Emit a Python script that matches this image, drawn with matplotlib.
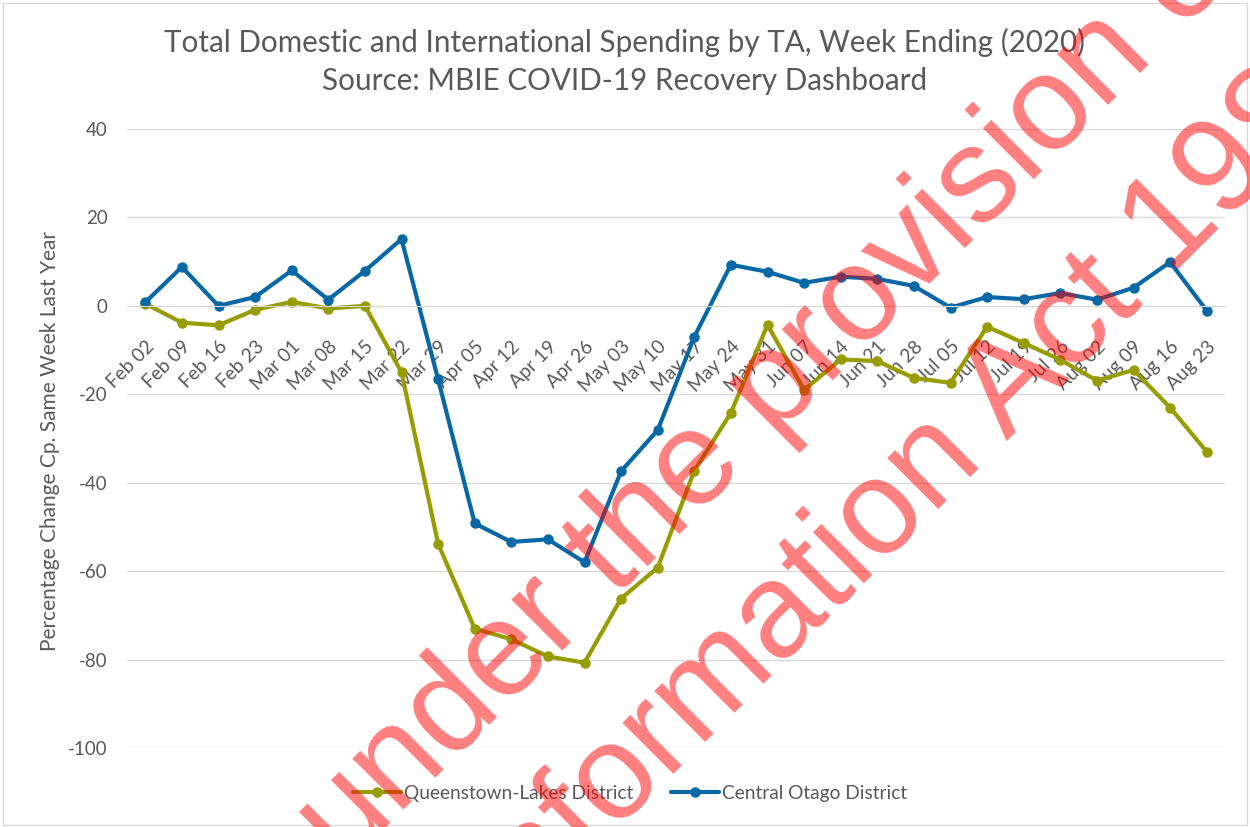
import numpy as np
import matplotlib
matplotlib.use('Agg')
import matplotlib.pyplot as plt
from matplotlib.patches import Rectangle

weeks = ['Feb 02', 'Feb 09', 'Feb 16', 'Feb 23', 'Mar 01', 'Mar 08', 'Mar 15',
         'Mar 22', 'Mar 29', 'Apr 05', 'Apr 12', 'Apr 19', 'Apr 26', 'May 03',
         'May 10', 'May 17', 'May 24', 'May 31', 'Jun 07', 'Jun 14', 'Jun 21',
         'Jun 28', 'Jul 05', 'Jul 12', 'Jul 19', 'Jul 26', 'Aug 02', 'Aug 09',
         'Aug 16', 'Aug 23']

queenstown = [0.5, -3.8, -4.4, -0.9, 0.9, -0.6, 0.0, -15.0, -53.8, -73.0,
              -75.4, -79.3, -80.7, -66.2, -59.2, -37.3, -24.2, -4.3, -19.0,
              -12.1, -12.5, -16.3, -17.4, -4.7, -8.4, -12.2, -16.9, -14.5,
              -23.0, -33.0]

central_otago = [0.8, 8.8, 0.0, 2.0, 8.0, 1.4, 7.9, 15.1, -16.6, -49.2,
                 -53.4, -52.8, -58.0, -37.4, -28.1, -7.0, 9.3, 7.7, 5.2, 6.6,
                 6.1, 4.5, -0.4, 2.0, 1.5, 2.9, 1.4, 4.1, 9.9, -1.1]

yticks = [40, 20, 0, -20, -40, -60, -80, -100]

font = 'Lato'
grey = '#595959'
W, H = 1250, 827

fig = plt.figure(figsize=(W / 100, H / 100), dpi=100)
ax = fig.add_axes([127 / W, 1 - 748 / H, (1225 - 127) / W, (748 - 129) / H])

x = np.arange(len(weeks))
ax.plot(x, queenstown, color='#979c00', lw=3, marker='o', ms=6.5,
        label='Queenstown-Lakes District', solid_capstyle='round')
ax.plot(x, central_otago, color='#0868a6', lw=3, marker='o', ms=6.5,
        label='Central Otago District', solid_capstyle='round')

ax.set_xlim(-0.5, len(weeks) - 0.5)
ax.set_ylim(-100, 40)
ax.set_yticks(yticks)
ax.set_yticklabels([str(v) for v in yticks], fontsize=13.5, color=grey, family=font)
ax.yaxis.grid(True, color='#d9d9d9', lw=1)
ax.set_axisbelow(True)

for s in ['left', 'right', 'top']:
    ax.spines[s].set_visible(False)
ax.spines['bottom'].set_position(('data', 0))
ax.spines['bottom'].set_color('#d9d9d9')
ax.tick_params(axis='y', length=0, pad=14)
ax.tick_params(axis='x', length=0, pad=23)

ax.set_xticks(x)
ax.set_xticklabels(weeks, rotation=45, ha='right', rotation_mode='anchor',
                   fontsize=13.75, color=grey, family=font)

ax.set_ylabel('Percentage Change Cp. Same Week Last Year', fontsize=15,
              color=grey, family=font)
ax.yaxis.set_label_coords(-0.061, 0.496)

fig.text(0.5, 1 - 42 / H, 'Total Domestic and International Spending by TA, Week Ending (2020)',
         ha='center', va='center', fontsize=21.3, color=grey, family=font)
fig.text(0.5, 1 - 81 / H, 'Source: MBIE COVID-19 Recovery Dashboard',
         ha='center', va='center', fontsize=21.3, color=grey, family=font)

leg = fig.legend(loc='center', bbox_to_anchor=(630 / W, 1 - 793 / H), ncol=2,
                 frameon=False, fontsize=13.75, handlelength=2.5,
                 columnspacing=2.0, handletextpad=0.15)
for t in leg.get_texts():
    t.set_color(grey)
    t.set_family(font)

fig.add_artist(Rectangle((3 / W, 2 / H), 1 - 6 / W, 1 - 5 / H, transform=fig.transFigure,
                         fill=False, edgecolor='#d9d9d9', lw=1))

# release stamp across the chart
stamp = dict(rotation=45, rotation_mode='anchor', ha='center', va='baseline',
             fontsize=97, family='Liberation Sans', color='red', alpha=0.5, zorder=10)
fig.text(668 / W, 1 - 546 / H, 'Released under the provision of the', **stamp)
fig.text(788 / W, 1 - 660 / H, 'Official Information Act 1982', **stamp)

fig.savefig('out.png', dpi=100)
